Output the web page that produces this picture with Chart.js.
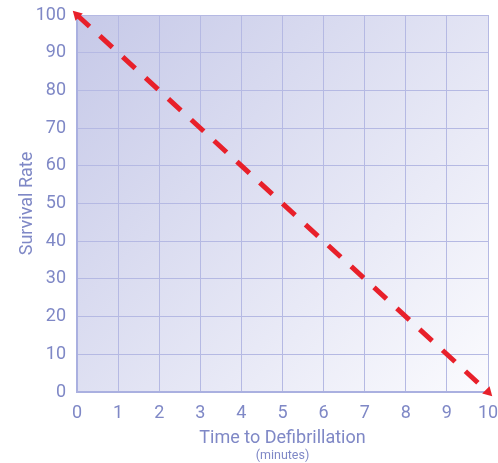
<!DOCTYPE html>
<html>
<head>
<meta charset="utf-8">
<script src="https://cdn.jsdelivr.net/npm/chart.js@4"></script>
<style>
  html, body { margin: 0; padding: 0; background: #ffffff; }
  #wrap { width: 498px; height: 463px; }
</style>
</head>
<body>
<div id="wrap"><canvas id="c" width="498" height="463"></canvas></div>
<script>
const minutes = [0, 10];
const survivalRate = [100, 0];
const xTicks = [0, 1, 2, 3, 4, 5, 6, 7, 8, 9, 10];
const yTicks = [0, 10, 20, 30, 40, 50, 60, 70, 80, 90, 100];
const xTitle = 'Time to Defibrillation';
const xSubTitle = '(minutes)';
const yTitle = 'Survival Rate';

const textColor = '#7f88c6';
const fontFamily = 'Roboto, "Liberation Sans", Arial, sans-serif';

const bgPlugin = {
  id: 'bg',
  beforeDraw(chart) {
    const { ctx, chartArea: a } = chart;
    const g = ctx.createLinearGradient(a.left, a.top, a.right, a.bottom);
    g.addColorStop(0, '#c6c9e8');
    g.addColorStop(1, '#fbfbfe');
    ctx.save();
    ctx.fillStyle = g;
    ctx.fillRect(a.left, a.top, a.right - a.left, a.bottom - a.top);
    ctx.restore();
  }
};

const subTitlePlugin = {
  id: 'subx',
  afterDraw(chart) {
    const { ctx, chartArea: a } = chart;
    ctx.save();
    ctx.fillStyle = textColor;
    ctx.font = '400 12.5px ' + fontFamily;
    ctx.textAlign = 'center';
    ctx.textBaseline = 'middle';
    ctx.fillText(xSubTitle, (a.left + a.right) / 2, chart.height - 7);
    ctx.restore();
  }
};

new Chart(document.getElementById('c'), {
  type: 'line',
  data: {
    datasets: [{
      data: minutes.map((m, i) => ({ x: m, y: survivalRate[i] })),
      borderColor: '#e8202a',
      backgroundColor: '#e8202a',
      borderWidth: 5,
      borderDash: [17, 14],
      borderCapStyle: 'butt',
      pointStyle: 'triangle',
      pointRadius: 6,
      pointRotation: [-45, 135],
      pointBorderWidth: 0,
      tension: 0,
      clip: false
    }]
  },
  options: {
    responsive: false,
    animation: false,
    layout: { padding: { top: 15, right: 10, bottom: 14, left: 14 } },
    plugins: { legend: { display: false }, tooltip: { enabled: false } },
    scales: {
      x: {
        type: 'linear',
        min: 0, max: 10,
        afterBuildTicks: (s) => { s.ticks = xTicks.map(v => ({ value: v })); },
        afterFit: (s) => { s.height = 57; s.paddingLeft = 0; s.paddingRight = 0; },
        ticks: { color: textColor, font: { family: fontFamily, size: 18, weight: 400 }, padding: 11, maxRotation: 0 },
        grid: { color: '#b5b9e3', lineWidth: 1, drawTicks: false },
        border: { color: '#aab0e0', width: 2 },
        title: { display: true, text: xTitle, color: textColor, font: { family: fontFamily, size: 18, weight: 400 }, padding: { top: 0, bottom: 0 } }
      },
      y: {
        type: 'linear',
        min: 0, max: 100,
        afterBuildTicks: (s) => { s.ticks = yTicks.map(v => ({ value: v })); },
        afterFit: (s) => { s.width = 63; s.paddingTop = 0; s.paddingBottom = 0; },
        ticks: { color: textColor, font: { family: fontFamily, size: 18, weight: 400 }, padding: 11 },
        grid: { color: '#b5b9e3', lineWidth: 1, drawTicks: false },
        border: { color: '#aab0e0', width: 2 },
        title: { display: true, text: yTitle, color: textColor, font: { family: fontFamily, size: 18, weight: 400 }, padding: { top: 3, bottom: 0 } }
      }
    }
  },
  plugins: [bgPlugin, subTitlePlugin]
});
</script>
</body>
</html>
